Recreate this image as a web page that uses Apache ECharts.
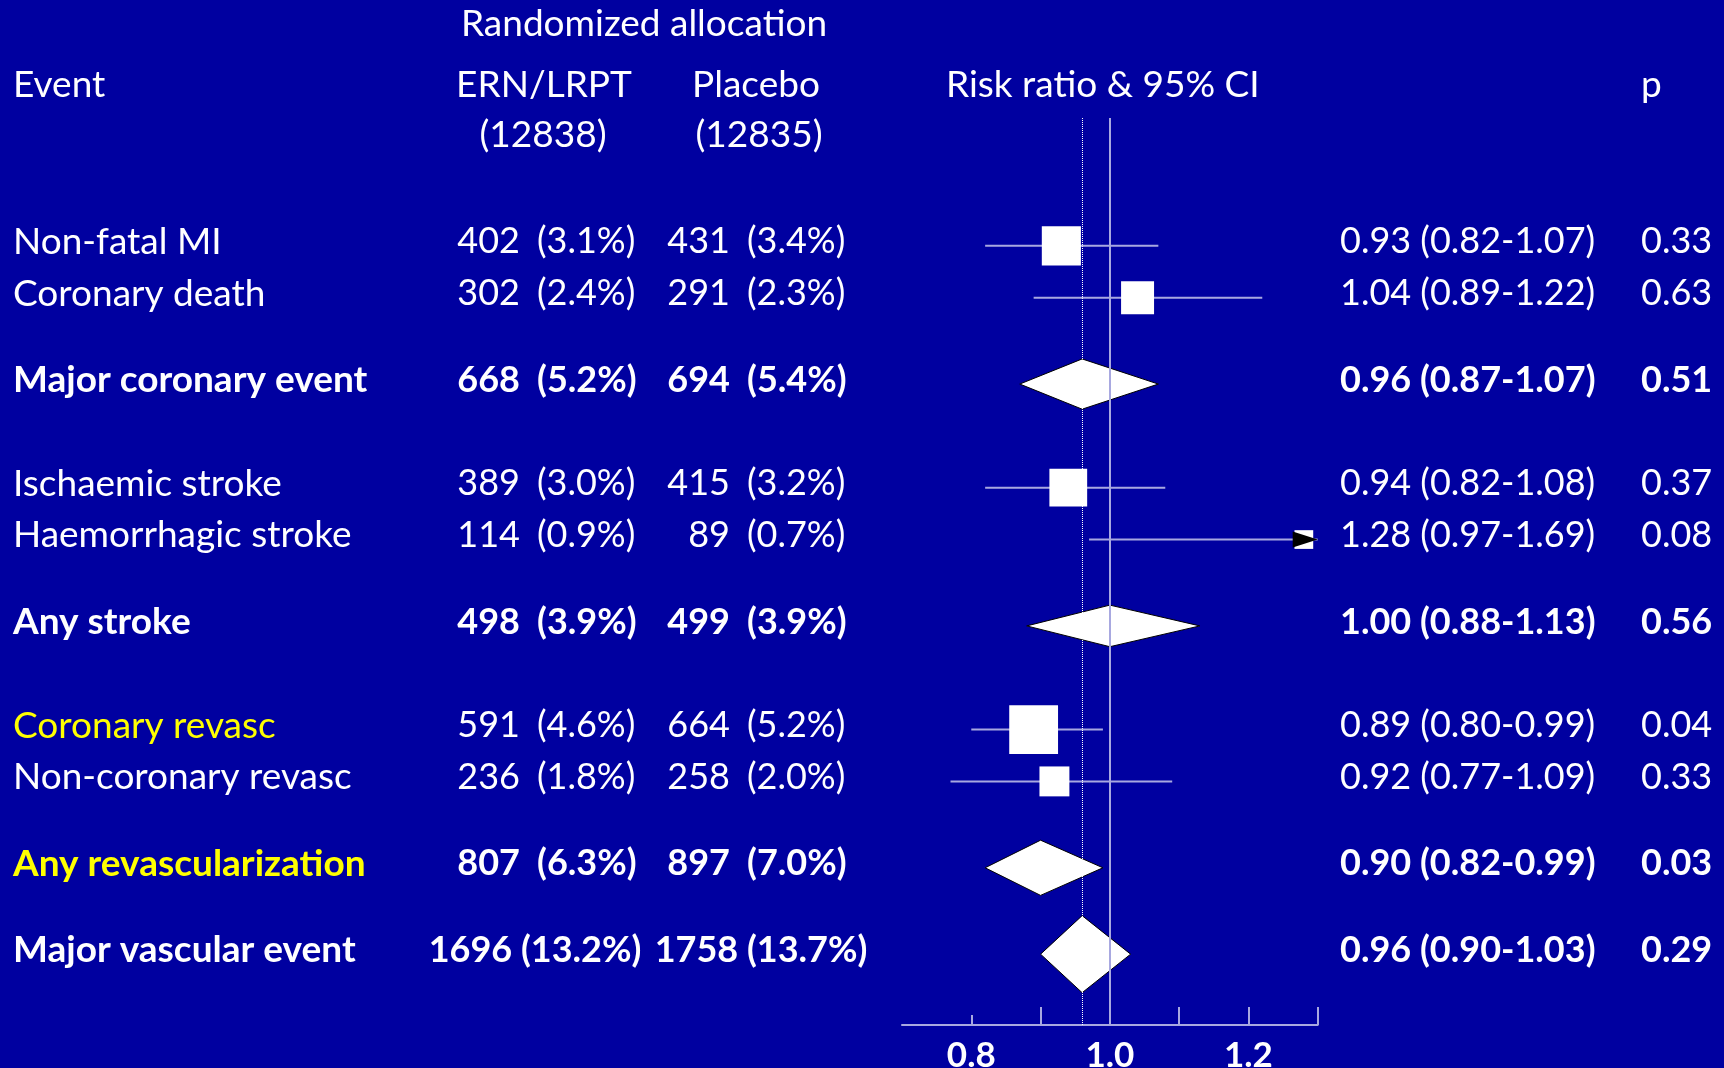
<!DOCTYPE html>
<html>
<head>
<meta charset="utf-8">
<script src="https://cdn.jsdelivr.net/npm/echarts@6/dist/echarts.min.js"></script>
<style>
  html, body { margin: 0; padding: 0; background: #0000a0; }
  #chart { width: 1724px; height: 1068px; }
</style>
</head>
<body>
<div id="chart"></div>
<script>
// ---- Trial outcomes: events by randomized allocation ----
const events = [
  'Non-fatal MI', 'Coronary death', 'Major coronary event',
  'Ischaemic stroke', 'Haemorrhagic stroke', 'Any stroke',
  'Coronary revasc', 'Non-coronary revasc', 'Any revascularization',
  'Major vascular event'
];
const ernCount = [402, 302, 668, 389, 114, 498, 591, 236, 807, 1696];
const ernPct   = [3.1, 2.4, 5.2, 3.0, 0.9, 3.9, 4.6, 1.8, 6.3, 13.2];
const pboCount = [431, 291, 694, 415, 89, 499, 664, 258, 897, 1758];
const pboPct   = [3.4, 2.3, 5.4, 3.2, 0.7, 3.9, 5.2, 2.0, 7.0, 13.7];
const riskRatio = [0.93, 1.04, 0.96, 0.94, 1.28, 1.00, 0.89, 0.92, 0.90, 0.96];
const ciLow     = [0.82, 0.89, 0.87, 0.82, 0.97, 0.88, 0.80, 0.77, 0.82, 0.90];
const ciHigh    = [1.07, 1.22, 1.07, 1.08, 1.69, 1.13, 0.99, 1.09, 0.99, 1.03];
const pValue    = [0.33, 0.63, 0.51, 0.37, 0.08, 0.56, 0.04, 0.33, 0.03, 0.29];
// pooled rows are drawn as diamonds and set in bold
const pooled    = [false, false, true, false, false, true, false, false, true, true];
const armSizes  = [12838, 12835];
const xTickLabels = [0.8, 1.0, 1.2];

// ---- Layout and style ----
const rowSlot = [0, 3, 8, 14, 17, 22, 28, 31, 36, 41];   // vertical slot of each row
const yellowEvents = ['Coronary revasc', 'Any revascularization'];
const X_MIN = 0.7, X_MAX = 1.3;
const Y_MIN = -7.4, Y_MAX = 45.1;
const FONT = 'Lato, "Liberation Sans", sans-serif';
const FS_NUM = 36;    // numeric columns
const FS_WORD = 37;   // event names and headings
const LAV = '#a8a8e0';
const MARK_K = 10.4;  // marker size = MARK_K / ln(upper / lower)
const TEXT_DY = -4;

const col = {
  event: 13,
  ernNumR: 520, ernPctL: 537, ernMid: 535,
  pboNumR: 730, pboPctL: 747, pboMid: 761,
  est: 1340, p: 1641
};

function fmt2(v) { return v.toFixed(2); }
function fmtPct(v) { return '(' + v.toFixed(1) + '%)'; }

function txt(text, x, y, align, weight, fill, size) {
  return {
    type: 'text',
    style: {
      text: text, x: x, y: y,
      fill: fill || '#ffffff',
      font: (weight || 'normal') + ' ' + (size || FS_NUM) + 'px ' + FONT,
      align: align, verticalAlign: 'middle'
    }
  };
}

function renderTable(params, api) {
  const i = params.dataIndex;
  const y = api.coord([X_MIN, rowSlot[i]])[1] + TEXT_DY;
  const w = pooled[i] ? 'bold' : 'normal';
  const nameColor = yellowEvents.indexOf(events[i]) >= 0 ? '#ffff00' : '#ffffff';
  const kids = [txt(events[i], col.event, y, 'left', w, nameColor, FS_WORD)];
  if (ernCount[i] >= 1000 || pboCount[i] >= 1000) {
    kids.push(txt(ernCount[i] + ' ' + fmtPct(ernPct[i]), col.ernMid, y, 'center', w));
    kids.push(txt(pboCount[i] + ' ' + fmtPct(pboPct[i]), col.pboMid, y, 'center', w));
  } else {
    kids.push(txt(String(ernCount[i]), col.ernNumR, y, 'right', w));
    kids.push(txt(fmtPct(ernPct[i]), col.ernPctL, y, 'left', w));
    kids.push(txt(String(pboCount[i]), col.pboNumR, y, 'right', w));
    kids.push(txt(fmtPct(pboPct[i]), col.pboPctL, y, 'left', w));
  }
  kids.push(txt(fmt2(riskRatio[i]) + ' (' + fmt2(ciLow[i]) + '-' + fmt2(ciHigh[i]) + ')', col.est, y, 'left', w));
  kids.push(txt(fmt2(pValue[i]), col.p, y, 'left', w));
  return { type: 'group', children: kids };
}

function renderMark(params, api) {
  const i = params.dataIndex;
  const est = api.value(0), slot = api.value(1), lo = api.value(2), hi = api.value(3);
  const y = api.coord([est, slot])[1];
  const xe = api.coord([est, slot])[0];
  const xl = api.coord([lo, slot])[0];
  const xh = api.coord([Math.min(hi, X_MAX), slot])[0];
  const size = MARK_K / Math.log(hi / lo);
  const kids = [];
  if (pooled[i]) {
    kids.push({
      type: 'polygon',
      shape: { points: [[xl, y], [xe, y - size / 2], [xh, y], [xe, y + size / 2]] },
      style: { fill: '#ffffff', stroke: '#000000', lineWidth: 1 }
    });
  } else {
    kids.push({ type: 'line', shape: { x1: xl, y1: y, x2: xh, y2: y }, style: { stroke: LAV, lineWidth: 2 } });
    kids.push({ type: 'rect', shape: { x: xe - size / 2, y: y - size / 2, width: size, height: size }, style: { fill: '#ffffff' } });
    if (hi > X_MAX) {
      // interval runs past the axis: arrowhead at the axis end
      kids.push({
        type: 'polygon',
        shape: { points: [[xh, y], [xh - 25, y - 8], [xh - 25, y + 8]] },
        style: { fill: '#000000' }
      });
    }
  }
  return { type: 'group', children: kids };
}

const headerFont = 'normal ' + FS_WORD + 'px ' + FONT;
function head(text, x, y, align) {
  return { type: 'text', x: x, y: y, style: { text: text, fill: '#ffffff', font: headerFont, align: align, verticalAlign: 'middle' } };
}

const chart = echarts.init(document.getElementById('chart'));
chart.setOption({
  backgroundColor: '#0000a0',
  animation: false,
  grid: { left: 902, right: 406.3, top: 118, bottom: 43, outerBoundsMode: 'none', containLabel: false },
  xAxis: [
    {
      type: 'value', min: X_MIN, max: X_MAX, interval: 0.1, position: 'bottom',
      splitLine: { show: false },
      axisLine: { show: true, onZero: false, lineStyle: { color: LAV, width: 2 } },
      axisTick: { show: true, inside: true, length: 18, customValues: [0.9, 1.0, 1.1, 1.2, 1.3], lineStyle: { color: LAV, width: 2 } },
      axisLabel: {
        customValues: xTickLabels, margin: 13,
        color: '#ffffff', fontFamily: FONT, fontWeight: 'bold', fontSize: 35,
        formatter: function (v) { return v.toFixed(1); }
      }
    },
    {
      type: 'value', min: X_MIN, max: X_MAX, interval: 0.1, position: 'bottom',
      splitLine: { show: false },
      axisLine: { show: false, onZero: false },
      axisTick: { show: true, inside: true, length: 10, customValues: [0.8], lineStyle: { color: LAV, width: 2 } },
      axisLabel: { show: false }
    }
  ],
  yAxis: { type: 'value', inverse: true, min: Y_MIN, max: Y_MAX, show: false },
  graphic: [
    head('Randomized allocation', 644, 24, 'center'),
    head('Event', 13, 85, 'left'),
    head('ERN/LRPT', 544, 85, 'center'),
    head('Placebo', 756, 85, 'center'),
    head('(' + armSizes[0] + ')', 543, 135, 'center'),
    head('(' + armSizes[1] + ')', 759, 135, 'center'),
    head('Risk ratio & 95% CI', 946, 85, 'left'),
    head('p', 1641, 85, 'left')
  ],
  series: [
    {
      type: 'line', data: [], z: 1, silent: true,
      markLine: {
        symbol: 'none', silent: true, label: { show: false },
        data: [
          { xAxis: 1.0, lineStyle: { color: LAV, width: 2, type: 'solid' } },
          { xAxis: riskRatio[riskRatio.length - 1], lineStyle: { color: '#ffffff', width: 1, type: 'dotted' } }
        ]
      }
    },
    {
      type: 'custom', z: 3, silent: true, clip: false,
      renderItem: renderMark,
      data: riskRatio.map(function (v, i) { return [v, rowSlot[i], ciLow[i], ciHigh[i]]; })
    },
    {
      type: 'custom', z: 4, silent: true, clip: false,
      renderItem: renderTable,
      data: events.map(function (e, i) { return [X_MIN, rowSlot[i]]; })
    }
  ]
});
</script>
</body>
</html>
